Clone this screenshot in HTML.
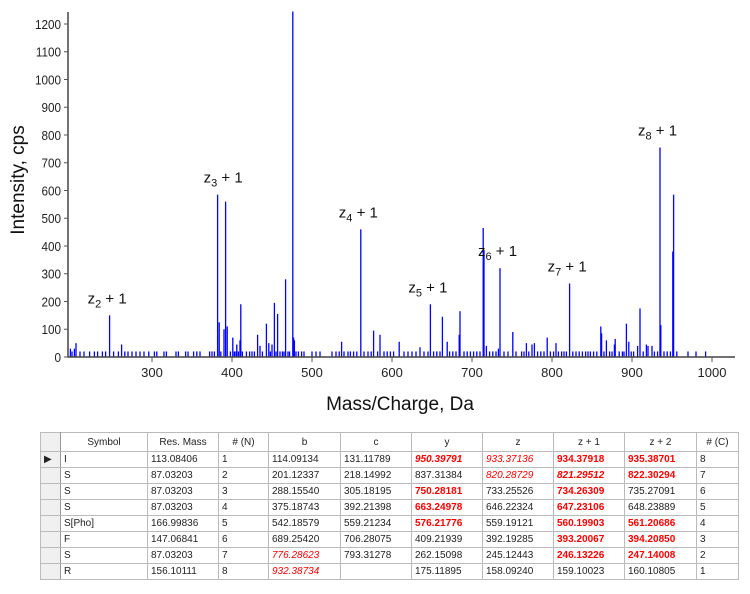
<!DOCTYPE html>
<html><head><meta charset="utf-8"><style>
body{margin:0;background:#fff;width:750px;height:594px;overflow:hidden;font-family:"Liberation Sans",sans-serif}
svg text{font-family:"Liberation Sans",sans-serif}
table{position:absolute;left:40px;top:432px;border-collapse:collapse;font-size:10px;font-family:"Liberation Sans",sans-serif;table-layout:fixed}
td,th{border:1px solid #bbb;height:15px;padding:0 3px;white-space:nowrap;overflow:hidden;text-align:left;font-weight:normal;color:#222}
th{text-align:center;height:18px}
.rb{color:#f00;font-weight:bold}.ri{color:#f00;font-style:italic}.rbi{color:#f00;font-weight:bold;font-style:italic}
.ind{background:#f0f0f0;border-right:1px solid #999}
</style></head><body>
<svg id="chart" width="750" height="425" style="position:absolute;left:0;top:0"></svg>
<table>
<colgroup><col style="width:20px"><col style="width:87px"><col style="width:71px"><col style="width:50px"><col style="width:72px"><col style="width:71px"><col style="width:71px"><col style="width:71px"><col style="width:71px"><col style="width:72px"><col style="width:42px"></colgroup>
<tr><th class="ind"></th><th>Symbol</th><th>Res. Mass</th><th># (N)</th><th>b</th><th>c</th><th>y</th><th>z</th><th>z + 1</th><th>z + 2</th><th># (C)</th></tr>
<tr><td class="ind">▶</td><td>I</td><td>113.08406</td><td>1</td><td>114.09134</td><td>131.11789</td><td class="rbi">950.39791</td><td class="ri">933.37136</td><td class="rb">934.37918</td><td class="rb">935.38701</td><td>8</td></tr>
<tr><td class="ind"></td><td>S</td><td>87.03203</td><td>2</td><td>201.12337</td><td>218.14992</td><td>837.31384</td><td class="ri">820.28729</td><td class="rbi">821.29512</td><td class="rb">822.30294</td><td>7</td></tr>
<tr><td class="ind"></td><td>S</td><td>87.03203</td><td>3</td><td>288.15540</td><td>305.18195</td><td class="rb">750.28181</td><td>733.25526</td><td class="rb">734.26309</td><td>735.27091</td><td>6</td></tr>
<tr><td class="ind"></td><td>S</td><td>87.03203</td><td>4</td><td>375.18743</td><td>392.21398</td><td class="rb">663.24978</td><td>646.22324</td><td class="rb">647.23106</td><td>648.23889</td><td>5</td></tr>
<tr><td class="ind"></td><td>S[Pho]</td><td>166.99836</td><td>5</td><td>542.18579</td><td>559.21234</td><td class="rb">576.21776</td><td>559.19121</td><td class="rb">560.19903</td><td class="rb">561.20686</td><td>4</td></tr>
<tr><td class="ind"></td><td>F</td><td>147.06841</td><td>6</td><td>689.25420</td><td>706.28075</td><td>409.21939</td><td>392.19285</td><td class="rb">393.20067</td><td class="rb">394.20850</td><td>3</td></tr>
<tr><td class="ind"></td><td>S</td><td>87.03203</td><td>7</td><td class="ri">776.28623</td><td>793.31278</td><td>262.15098</td><td>245.12443</td><td class="rb">246.13226</td><td class="rb">247.14008</td><td>2</td></tr>
<tr><td class="ind"></td><td>R</td><td>156.10111</td><td>8</td><td class="ri">932.38734</td><td></td><td>175.11895</td><td>158.09240</td><td>159.10023</td><td>160.10805</td><td>1</td></tr>
</table>
<script>
const peakMz=[247,262,382,384,390,392,394,401,406,410,411,432,435,443,446,450,453,457,467,476,477,478,537,561,577,585,609,635,648,663,669,684,685,714,715,718,733,735,751,768,775,778,794,805,822,861,862,868,878,879,893,896,907,910,918,920,925,935,936,951,952,198,203,205];
const peakInt=[150,45,585,125,100,560,110,70,45,60,190,80,40,120,50,45,195,155,280,1245,70,60,55,460,95,80,55,35,190,145,55,80,165,465,385,40,30,320,90,50,45,50,70,50,265,110,85,60,45,65,120,55,40,175,45,40,40,755,115,380,585,30,30,50];
const noiseMz=[200,210,215,222,228,232,238,242,252,258,266,270,275,280,285,290,296,303,306,315,318,330,333,342,345,352,356,360,372,375,378,386,398,403,405,408,413,418,422,425,428,438,448,455,460,463,465,470,472,480,483,487,490,500,505,510,525,530,534,540,545,548,552,556,565,570,574,582,590,594,598,602,615,620,625,630,640,645,652,656,660,672,676,680,690,694,698,702,706,710,722,726,730,740,745,755,762,765,771,782,786,790,798,802,808,812,815,818,826,830,834,838,842,845,848,852,856,865,872,875,884,888,890,899,902,914,928,932,940,944,948,956,970,980,992];
const noiseInt=noiseMz.map(()=>20);
const xTicks=[300,400,500,600,700,800,900,1000];
const yTicks=[0,100,200,300,400,500,600,700,800,900,1000,1100,1200];
const labels=[["z","2",247,150],["z","3",392,585],["z","4",561,460],["z","5",648,190],["z","6",735,320],["z","7",822,265],["z","8",935,755]];
const ns="http://www.w3.org/2000/svg",svg=document.getElementById('chart');
const X=m=>68+(m-195)*0.8, Y=v=>357-v*0.2775;
function el(t,a,p){const e=document.createElementNS(ns,t);for(const k in a)e.setAttribute(k,a[k]);(p||svg).appendChild(e);return e;}
const g=el('g',{});


function bar(m,v){const l=el('line',{x1:X(m),x2:X(m),y1:357,y2:Y(v),stroke:'#0000ff','stroke-width':1.3},g);

}
noiseMz.forEach((m,i)=>bar(m,noiseInt[i]));
peakMz.forEach((m,i)=>bar(m,peakInt[i]));
const ax=el('path',{d:`M68 12 V357 H735`,stroke:'#444',fill:'none','stroke-width':1.5});


yTicks.forEach(v=>{el('line',{x1:64,x2:68,y1:Y(v),y2:Y(v),stroke:'#555'});
const t=el('text',{x:61,y:Y(v)+5,'text-anchor':'end','font-size':13,fill:'#222',transform:`translate(${61*0.1},0) scale(0.9,1)`});t.textContent=v;

});
xTicks.forEach(v=>{el('line',{x1:X(v),x2:X(v),y1:357,y2:362,stroke:'#555'});
const t=el('text',{x:X(v),y:377,'text-anchor':'middle','font-size':13,fill:'#222'});t.textContent=v;

});
const xt=el('text',{x:400,y:410,'text-anchor':'middle','font-size':19,fill:'#111'});xt.textContent='Mass/Charge, Da';


const yt=el('text',{x:0,y:0,transform:'translate(24,180) rotate(-90)','text-anchor':'middle','font-size':19,fill:'#111'});yt.textContent='Intensity, cps';


labels.forEach(([a,s,m,v])=>{const t=el('text',{x:X(m)-22,y:Y(v)-12,'font-size':15,fill:'#111'});


t.appendChild(document.createTextNode(a));
const sub=el('tspan',{dy:4,'font-size':11},t);sub.textContent=s;
const r=el('tspan',{dy:-4},t);r.textContent=' + 1';});
</script>
</body></html>
